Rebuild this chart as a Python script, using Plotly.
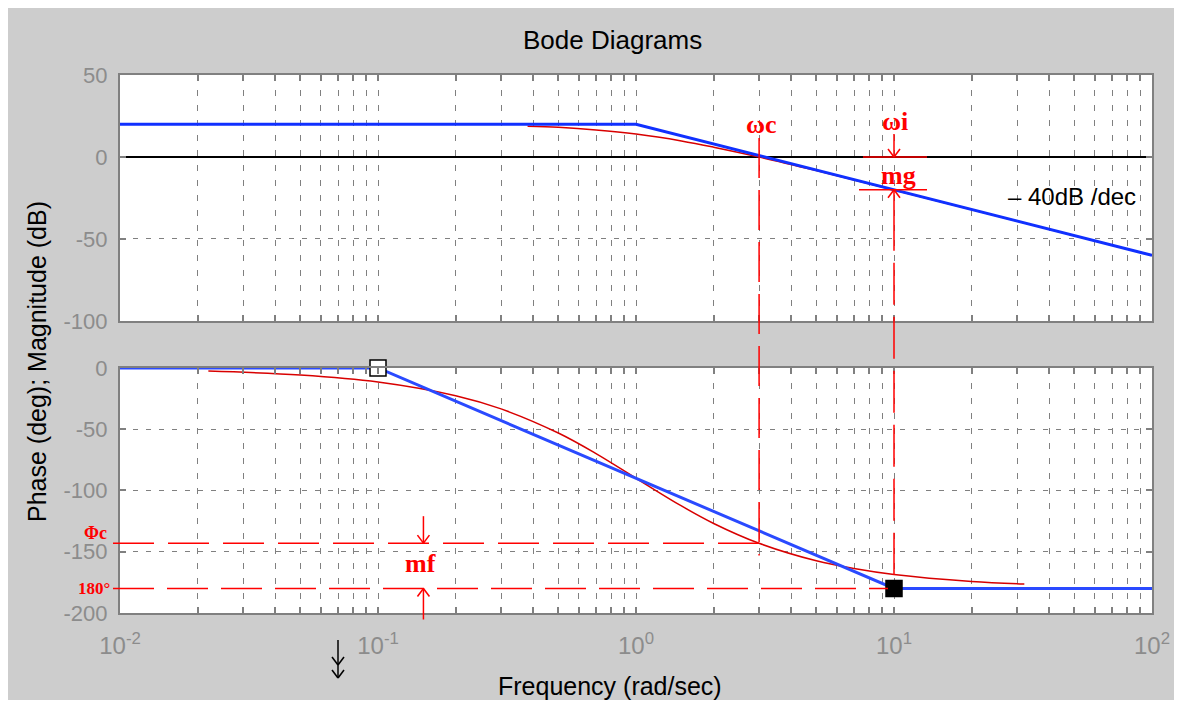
import numpy as np
import plotly.graph_objects as go

# ---------------- data ----------------
w_mag_asym = [0.01, 1, 100]
mag_asym = [20, 20, -60]

w_phase_asym = [0.01, 0.1, 10, 100]
phase_asym = [0, 0, -180, -180]

w_mag_real = [0.38, 0.5, 0.7, 1.0, 1.5, 2.0, 3.0, 5.0, 10, 30, 100]
mag_real = [18.8, 18.1, 16.5, 14.0, 9.8, 6.0, 0.0, -8.3, -20.1, -39.1, -60.0]

w_phase_real = [0.022, 0.05, 0.1, 0.2, 0.3, 0.5, 0.7, 1.0, 1.5, 2.0, 3.0, 5.0, 7.0, 10, 20, 32]
phase_real = [-2.5, -5.7, -11.4, -22.6, -33.4, -53.1, -69.9, -90.0, -112.6,
              -126.9, -143.1, -157.4, -163.7, -168.6, -174.3, -176.4]

corner_w = [0.1, 10]
corner_phase = [0, -180]

w_c = 3.0          # crossover frequency
w_i = 10.0         # frequency where phase = -180
phi_c = -143       # phase at w_c
mag_at_wi = -20    # gain at w_i
phase_ref = -180
w_mf = 0.15        # where the phase-margin arrows are drawn

x_tick_decades = [-2, -1, 0, 1, 2]
y_mag_ticks = [-100, -50, 0, 50]
y_phase_ticks = [-200, -150, -100, -50, 0]

# ---------------- geometry helpers ----------------
PW, PH = 1032, 538                 # plot area size in px
TOP_DOM = [0.5428, 1.0]
BOT_DOM = [0.0, 0.4554]
MAG_RANGE = [-100, 50]
PH_RANGE = [-200, 0]


def xp(w):
    return (np.log10(w) + 2) / 4


def yt(v):
    return TOP_DOM[0] + (v - MAG_RANGE[0]) / (MAG_RANGE[1] - MAG_RANGE[0]) * (TOP_DOM[1] - TOP_DOM[0])


def yb(v):
    return BOT_DOM[0] + (v - PH_RANGE[0]) / (PH_RANGE[1] - PH_RANGE[0]) * (BOT_DOM[1] - BOT_DOM[0])


def sx(px):   # screen px -> paper x
    return (px - 120) / PW


def sy(py):   # screen px -> paper y
    return (613 - py) / PH


RED = "#ff0000"
GREY = "#808080"
shapes = []


def seg(x0, y0, x1, y1, color=RED, width=1.5, dash=None):
    shapes.append(dict(type="line", xref="paper", yref="paper", x0=x0, y0=y0, x1=x1, y1=y1,
                       line=dict(color=color, width=width, dash=dash), layer="above"))


def head(x, ytip, up, color=RED):
    dx, dy = 6 / PW, 8 / PH
    wy = ytip - dy if up else ytip + dy
    seg(x - dx, wy, x, ytip, color)
    seg(x + dx, wy, x, ytip, color)


# ---------------- figure ----------------
fig = go.Figure()

# thin real curves
fig.add_trace(go.Scatter(x=w_mag_real, y=mag_real, mode="lines", line=dict(color="#d80000", width=1.5, shape="spline"),
                         xaxis="x", yaxis="y", showlegend=False))
fig.add_trace(go.Scatter(x=w_phase_real, y=phase_real, mode="lines", line=dict(color="#d80000", width=1.5, shape="spline"),
                         xaxis="x2", yaxis="y2", showlegend=False))
# asymptotes
fig.add_trace(go.Scatter(x=w_mag_asym, y=mag_asym, mode="lines", line=dict(color="#1030ff", width=3),
                         xaxis="x", yaxis="y", showlegend=False))
fig.add_trace(go.Scatter(x=w_phase_asym, y=phase_asym, mode="lines", line=dict(color="#2a4aff", width=3),
                         xaxis="x2", yaxis="y2", showlegend=False))
# corner markers
fig.add_trace(go.Scatter(x=corner_w, y=corner_phase, mode="markers", cliponaxis=False,
                         marker=dict(symbol="square", size=16, color=["white", "black"],
                                     line=dict(color="black", width=1.5)),
                         xaxis="x2", yaxis="y2", showlegend=False))

# ---- annotation lines ----
# omega_c vertical dashed line
seg(xp(w_c), yt(11.6), xp(w_c), yb(-153), dash="40px,12px")
# omega_i down arrow to 0 dB
seg(xp(w_i), yt(0) + 23 / PH, xp(w_i), yt(0))
head(xp(w_i), yt(0), up=False)
seg(xp(w_i) - 31 / PW, yt(0), xp(w_i) + 33 / PW, yt(0))
# mg lower bar and up arrow
seg(xp(w_i) - 35 / PW, yt(mag_at_wi), xp(w_i) + 33 / PW, yt(mag_at_wi))
head(xp(w_i), yt(mag_at_wi), up=True)
seg(xp(w_i), yt(mag_at_wi), xp(w_i), yt(mag_at_wi) - 61 / PH)
seg(xp(w_i), yt(mag_at_wi) - 73 / PH, xp(w_i), yb(phase_ref) + 9 / PH, dash="42px,12px")
# phase-margin horizontal dashed lines
seg(sx(113), yb(phi_c), xp(w_c) + 12 / PW, yb(phi_c), dash="41px,14px")
seg(sx(113), yb(phase_ref), xp(w_i) - 6 / PW, yb(phase_ref), dash="41px,13px")
# mf arrows
seg(xp(w_mf), yb(phi_c) + 27 / PH, xp(w_mf), yb(phi_c))
head(xp(w_mf), yb(phi_c), up=False)
seg(xp(w_mf), yb(phase_ref), xp(w_mf), yb(phase_ref) - 31 / PH)
head(xp(w_mf), yb(phase_ref), up=True)
# double-headed arrow below axis
seg(sx(338), sy(640), sx(338), sy(678), color="black")
head(sx(338), sy(665), up=False, color="black")
head(sx(338), sy(678), up=False, color="black")

SERIF = "Liberation Serif, Times New Roman, serif"
SANS = "Liberation Sans, Arial, sans-serif"
annotations = [
    dict(x=xp(w_c) + 2 / PW, y=sy(125), text="<b>ωc</b>", font=dict(family=SERIF, size=26, color=RED)),
    dict(x=xp(w_i) + 1 / PW, y=sy(121), text="<b>ωi</b>", font=dict(family=SERIF, size=26, color=RED)),
    dict(x=xp(w_i) + 4 / PW, y=sy(175), text="<b>mg</b>", font=dict(family=SERIF, size=26, color=RED)),
    dict(x=sx(1072), y=sy(197), text="– 40dB /dec", font=dict(family=SANS, size=24, color="black")),
    dict(x=sx(95), y=yb(phi_c) + 10 / PH, text="<b>Φc</b>", font=dict(family=SERIF, size=18, color=RED)),
    dict(x=sx(94), y=yb(phase_ref), text="<b>180°</b>", font=dict(family=SERIF, size=17, color=RED)),
    dict(x=xp(w_mf) - 3 / PW, y=sy(563), text="<b>mf</b>", font=dict(family=SERIF, size=26, color=RED)),
    dict(x=sx(612), y=sy(40), text="Bode Diagrams", font=dict(family=SANS, size=26, color="black")),
    dict(x=sx(37), y=sy(362), text="Phase (deg); Magnitude (dB)", textangle=-90,
         font=dict(family=SANS, size=25, color="black")),
    dict(x=sx(610), y=sy(686), text="Frequency (rad/sec)", font=dict(family=SANS, size=25, color="black")),
]
for a in annotations:
    a.update(xref="paper", yref="paper", showarrow=False, xanchor="center", yanchor="middle")

# ticks
x_tickvals, x_ticktext = [], []
for d in x_tick_decades:
    for m in range(1, 10):
        if d == x_tick_decades[-1] and m > 1:
            break
        x_tickvals.append(m * 10.0 ** d)
        x_ticktext.append(f"10<sup>{d}</sup>" if m == 1 else "")

common_x = dict(type="log", range=[-2, 2], domain=[0, 1], tickmode="array", tickvals=x_tickvals,
                ticktext=x_ticktext, tickangle=0, showgrid=True, gridcolor=GREY, gridwidth=1, griddash="6px,9px",
                ticks="inside", ticklen=6, tickcolor=GREY, tickwidth=1.5, automargin=False,
                showline=True, linecolor=GREY, linewidth=2, mirror="ticks", zeroline=False,
                tickfont=dict(family=SANS, size=24, color="#8c8c8c"))
common_y = dict(showgrid=True, gridcolor=GREY, gridwidth=1, griddash="5px,8px",
                ticks="inside", ticklen=6, tickcolor=GREY, tickwidth=1.5, automargin=False,
                showline=True, linecolor=GREY, linewidth=2, mirror="ticks",
                tickfont=dict(family=SANS, size=22, color="#8c8c8c"), ticklabelstandoff=6)

fig.update_layout(
    width=1166, height=692, autosize=False,
    margin=dict(l=112, r=22, t=67, b=87, autoexpand=False),
    paper_bgcolor="#cdcdcd", plot_bgcolor="white",
    xaxis=dict(common_x, anchor="y", showticklabels=False),
    xaxis2=dict(common_x, anchor="y2", matches="x", showticklabels=True, ticklabelstandoff=10),
    yaxis=dict(common_y, domain=TOP_DOM, range=MAG_RANGE, tickmode="array", tickvals=y_mag_ticks,
               ticktext=[str(v) for v in y_mag_ticks], zeroline=True, zerolinecolor="black", zerolinewidth=1.5,
               anchor="x"),
    yaxis2=dict(common_y, domain=BOT_DOM, range=PH_RANGE, tickmode="array", tickvals=y_phase_ticks,
                ticktext=[str(v) for v in y_phase_ticks], zeroline=False, anchor="x2"),
    shapes=shapes,
    annotations=annotations,
    showlegend=False,
)

fig.write_html("out.html")
